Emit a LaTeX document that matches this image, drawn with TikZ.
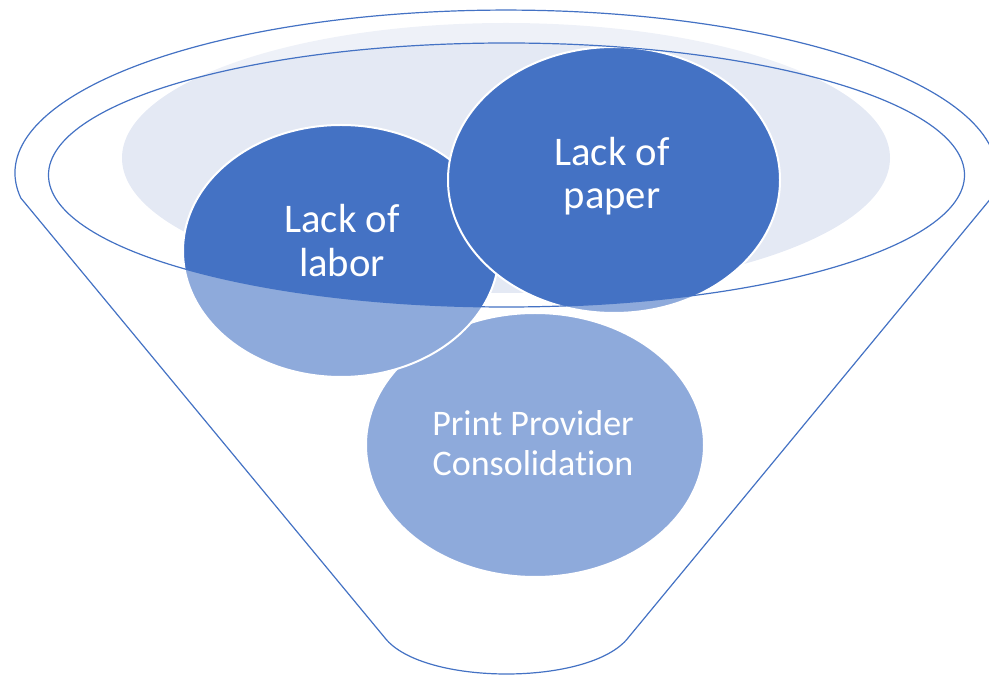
\documentclass[tikz,border=0pt]{standalone}
\usepackage{fontspec}
\setmainfont{Carlito}[Ligatures=NoCommon]
\usetikzlibrary{shapes.geometric}
\definecolor{accdark}{HTML}{4472C4}
\definecolor{acclight}{HTML}{E4E9F4}
\begin{document}
\begin{tikzpicture}[x=0.75pt,y=0.75pt,
  bubble/.style={ellipse, draw=white, line width=1.5pt, fill=accdark, inner sep=0pt},
  bubbletext/.style={text=white, align=center, inner sep=0pt},
  funnelline/.style={draw=accdark, line width=0.9pt}]
\useasboundingbox (0,0) rectangle (989,675);
% back light ellipse
\fill[acclight] (506,517) ellipse [x radius=384, y radius=135];
% circles
\node[bubble, minimum width=253.5pt, minimum height=198pt] (print) at (535,230) {};
\node[bubble, minimum width=237pt, minimum height=189pt] (labor) at (341,424) {};
\node[bubble, minimum width=249pt, minimum height=199.5pt] (paper) at (614,495) {};
% funnel body overlay
\fill[white, fill opacity=0.4, even odd rule]
  (20.8,477) arc[start angle=188.8, end angle=-8.8, x radius=491, y radius=163]
  -- (628,37) .. controls (590,-11) and (423,-11) .. (385,37) -- cycle
  (506.5,500) ellipse [x radius=458, y radius=132];
% funnel outline
\draw[funnelline]
  (20.8,477) arc[start angle=188.8, end angle=-8.8, x radius=491, y radius=163]
  -- (628,37) .. controls (590,-11) and (423,-11) .. (385,37) -- cycle;
\draw[funnelline] (506.5,500) ellipse [x radius=458, y radius=132];
% texts
\node[bubbletext, font=\fontsize{30.5}{32.5}\selectfont] (labortext) at (342,434.5) {Lack of\\labor};
\node[bubbletext, font=\fontsize{30.5}{32.5}\selectfont] (papertext) at (612,499) {Lack of\\paper};
\node[bubbletext, font=\fontsize{27}{30}\selectfont] (printtext) at (533,232) {Print Provider\\Consolidation};
\end{tikzpicture}
\end{document}
